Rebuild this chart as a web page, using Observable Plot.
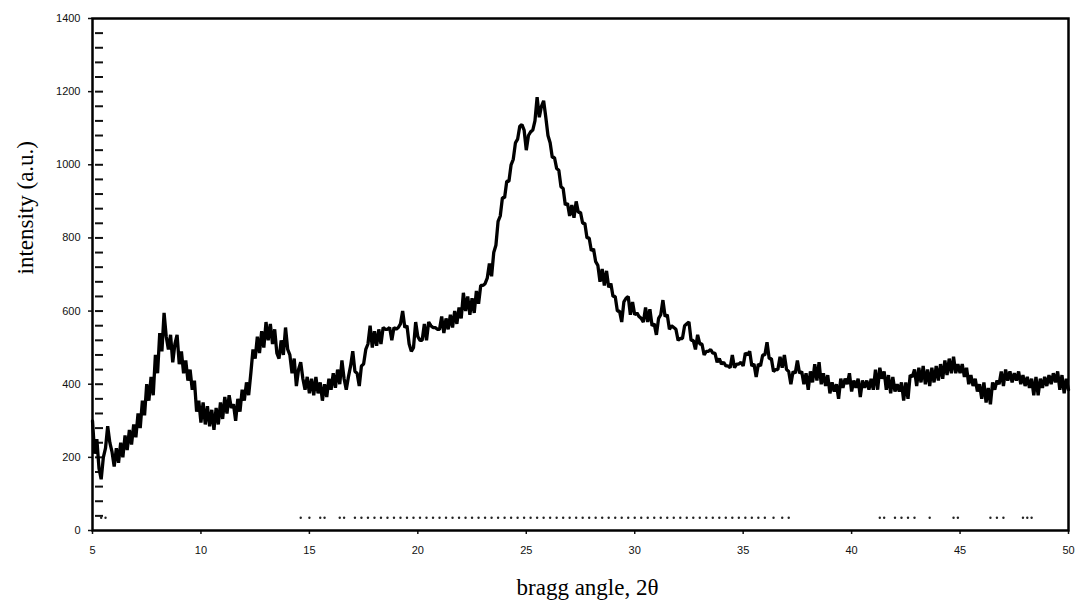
<!DOCTYPE html>
<html>
<head>
<meta charset="utf-8">
<script src="https://cdn.jsdelivr.net/npm/d3@7"></script>
<script src="https://cdn.jsdelivr.net/npm/@observablehq/plot@0.6"></script>
<style>
  html, body { margin: 0; padding: 0; background: #ffffff; }
  #chart { width: 1079px; height: 610px; }
</style>
</head>
<body>
<div id="chart"></div>
<script>
// Powder diffraction scan: 2θ from 5° to 50° in 0.1° steps
const angleStart = 5;
const angleStep = 0.1;

// Measured intensity (a.u.), one row per degree (x.0 … x.9), last value at 50.0°
const intensity = [
  300, 210, 250, 170, 140, 200, 225, 285, 240, 215,   // 5
  175, 225, 185, 240, 200, 260, 220, 275, 235, 290,   // 6
  255, 320, 280, 355, 315, 400, 355, 420, 370, 480,   // 7
  430, 540, 490, 595, 530, 495, 535, 460, 510, 535,   // 8
  455, 490, 430, 465, 410, 440, 385, 410, 325, 355,   // 9
  295, 350, 290, 340, 285, 330, 275, 335, 290, 350,   // 10
  305, 365, 320, 370, 335, 345, 300, 360, 325, 385,   // 11
  355, 405, 370, 430, 495, 470, 530, 485, 545, 500,   // 12
  570, 520, 565, 510, 550, 485, 470, 520, 480, 555,   // 13
  495, 480, 430, 470, 395, 440, 460, 415, 385, 420,   // 14
  375, 415, 370, 420, 375, 405, 355, 400, 365, 415,   // 15
  385, 430, 390, 440, 400, 465, 415, 385, 420, 450,   // 16
  490, 435, 430, 395, 450, 455, 495, 510, 560, 500,   // 17
  545, 505, 550, 510, 555, 550, 550, 555, 520, 555,   // 18
  550, 555, 565, 600, 555, 560, 510, 490, 500, 570,   // 19
  530, 520, 520, 565, 520, 570, 560, 555, 555, 550,   // 20
  550, 585, 540, 580, 550, 590, 555, 600, 565, 610,   // 21
  580, 650, 600, 640, 590, 635, 595, 655, 620, 670,   // 22
  670, 675, 690, 730, 695, 760, 780, 845, 860, 910,   // 23
  910, 955, 955, 1000, 1015, 1060, 1070, 1105, 1110, 1095, // 24
  1040, 1080, 1090, 1095, 1120, 1185, 1130, 1160, 1175, 1130, // 25
  1080, 1060, 1020, 1020, 990, 985, 940, 935, 890, 895, // 26
  860, 890, 855, 900, 870, 870, 840, 840, 800, 800,   // 27
  765, 770, 735, 725, 680, 715, 670, 710, 665, 675,   // 28
  640, 640, 600, 600, 570, 625, 635, 640, 590, 625,   // 29
  590, 595, 585, 580, 570, 610, 570, 605, 560, 565,   // 30
  535, 580, 590, 630, 585, 590, 550, 560, 555, 550,   // 31
  520, 525, 525, 560, 565, 570, 520, 520, 495, 535,   // 32
  510, 510, 480, 490, 490, 495, 485, 485, 460, 470,   // 33
  455, 460, 450, 450, 445, 480, 445, 455, 455, 460,   // 34
  450, 485, 480, 490, 450, 455, 420, 455, 450, 480,   // 35
  480, 515, 470, 470, 435, 440, 440, 475, 445, 480,   // 36
  440, 435, 400, 435, 430, 465, 430, 435, 400, 430,   // 37
  385, 435, 405, 455, 410, 460, 400, 430, 395, 425,   // 38
  375, 405, 380, 400, 360, 415, 390, 415, 400, 430,   // 39
  380, 410, 390, 415, 365, 410, 390, 410, 385, 415,   // 40
  385, 440, 385, 445, 415, 435, 385, 425, 375, 420,   // 41
  380, 400, 380, 405, 355, 405, 360, 425, 420, 440,   // 42
  395, 445, 405, 450, 400, 440, 395, 445, 405, 450,   // 43
  410, 455, 415, 465, 425, 470, 430, 475, 430, 455,   // 44
  430, 455, 420, 445, 400, 425, 395, 415, 380, 400,   // 45
  360, 405, 350, 390, 345, 405, 385, 410, 400, 435,   // 46
  395, 440, 410, 435, 405, 430, 410, 435, 400, 425,   // 47
  395, 420, 390, 415, 370, 420, 370, 415, 390, 420,   // 48
  395, 425, 400, 430, 405, 435, 385, 425, 375, 415,   // 49
  385                                                 // 50
];

// Detector marker dots printed along the base of the scan (2θ positions)
const scanMarkAngles = [
  5.4, 5.6, 14.6, 15.0, 15.5, 15.7, 16.4, 16.6, 17.1, 17.4, 17.7, 18.0, 18.3, 18.6,
  18.9, 19.2, 19.5, 19.8, 20.1, 20.4, 20.7, 21.0, 21.3, 21.6, 21.9, 22.2, 22.5,
  22.8, 23.1, 23.4, 23.7, 24.0, 24.3, 24.6, 24.9, 25.2, 25.5, 25.8, 26.1, 26.4,
  26.7, 27.0, 27.3, 27.6, 27.9, 28.2, 28.5, 28.8, 29.1, 29.4, 29.7, 30.0, 30.3,
  30.6, 30.9, 31.2, 31.5, 31.8, 32.1, 32.4, 32.7, 33.0, 33.3, 33.6, 33.9, 34.2,
  34.5, 34.8, 35.1, 35.4, 35.7, 36.0, 36.4, 36.8, 37.1,
  41.3, 41.5, 42.0, 42.3, 42.6, 42.9, 43.6, 44.7, 44.9, 46.4, 46.7, 47.0,
  47.9, 48.1, 48.3
];
const scanMarkLevel = 35;

// Axis ticks
const xTicks = [5, 10, 15, 20, 25, 30, 35, 40, 45, 50];
const yTicks = [0, 200, 400, 600, 800, 1000, 1200, 1400];
const yMinorTicks = [40, 80, 120, 160, 200, 240, 280, 320, 360, 400, 440, 480, 520, 560, 600,
  640, 680, 720, 760, 800, 840, 880, 920, 960, 1000, 1040, 1080, 1120, 1160, 1200,
  1240, 1280, 1320, 1360];

const scan = intensity.map((v, i) => ({
  angle: +(angleStart + i * angleStep).toFixed(1),
  intensity: v
}));
const marks = scanMarkAngles.map(a => ({angle: a, intensity: scanMarkLevel}));

const chart = Plot.plot({
  width: 1079,
  height: 610,
  marginLeft: 92,
  marginRight: 11,
  marginTop: 18,
  marginBottom: 80,
  style: {
    fontFamily: "'Liberation Sans', Arial, sans-serif",
    fontSize: "11px",
    background: "#ffffff",
    color: "#111"
  },
  x: {domain: [5, 50]},
  y: {domain: [0, 1400]},
  marks: [
    Plot.axisX(xTicks, {tickSize: 4, tickPadding: 12, strokeWidth: 1.5, tickFormat: d => String(d), label: null}),
    Plot.axisY(yTicks, {tickSize: 4, tickPadding: 8, strokeWidth: 1.5, tickFormat: d => String(d), label: null}),
    Plot.axisY(yMinorTicks, {tickSize: -8, tickPadding: 0, strokeWidth: 2, dx: 3, tickFormat: () => "", label: null}),
    Plot.dot(marks, {x: "angle", y: "intensity", r: 1.2, fill: "#222", stroke: null}),
    Plot.line(scan, {x: "angle", y: "intensity", stroke: "#000", strokeWidth: 3.3, strokeLinejoin: "miter"}),
    Plot.frame({stroke: "#000", strokeWidth: 2.5}),
    Plot.text(["bragg angle, 2θ"], {
      frameAnchor: "bottom", dy: 64, dx: 7,
      fontFamily: "'Liberation Serif', 'Times New Roman', serif", fontSize: 23, fill: "#000"
    }),
    Plot.text(["intensity (a.u.)"], {
      frameAnchor: "left", dx: -67, rotate: -90,
      fontFamily: "'Liberation Serif', 'Times New Roman', serif", fontSize: 23, fill: "#000"
    })
  ]
});

document.getElementById("chart").append(chart);
</script>
</body>
</html>
